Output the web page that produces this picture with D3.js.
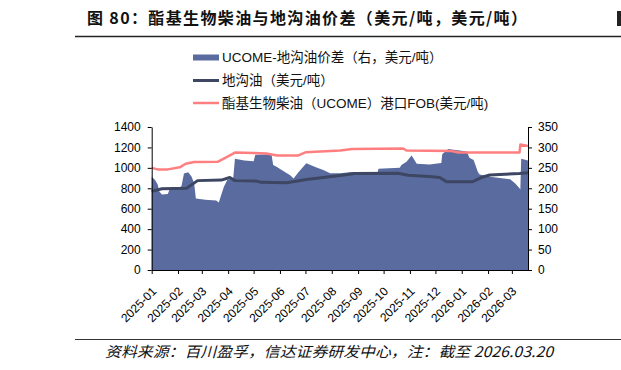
<!DOCTYPE html>
<html><head><meta charset="utf-8">
<script src="https://cdn.jsdelivr.net/npm/d3@7"></script>
<style>
html,body{margin:0;padding:0;background:#fff;}
svg{display:block;}
text{font-family:"Liberation Sans","Noto Sans CJK SC",sans-serif;}
</style></head>
<body>
<svg id="c" width="621" height="370"></svg>
<script>
// ---- data ----
const titleText = "图 80：酯基生物柴油与地沟油价差（美元/吨，美元/吨）";
const sourceText = "资料来源：百川盈孚，信达证券研发中心，注：截至 2026.03.20";
const legendLabels = ["UCOME-地沟油价差（右，美元/吨）", "地沟油（美元/吨）", "酯基生物柴油（UCOME）港口FOB(美元/吨)"];

const monthTicks = ["2025-01","2025-02","2025-03","2025-04","2025-05","2025-06","2025-07","2025-08","2025-09","2025-10","2025-11","2025-12","2026-01","2026-02","2026-03"];
const leftTicks = [0,200,400,600,800,1000,1200,1400];
const rightTicks = [0,50,100,150,200,250,300,350];

// UCOME port FOB (left axis, USD/t)
const ucomeDates = ["2025-01-01","2025-01-08","2025-01-20","2025-02-03","2025-02-10","2025-02-20","2025-03-20","2025-03-28","2025-04-09","2025-05-01","2025-05-16","2025-05-24","2025-05-29","2025-06-22","2025-07-01","2025-08-11","2025-08-25","2025-10-24","2025-10-28","2025-12-20","2025-12-28","2026-03-10","2026-03-11","2026-03-20"];
const ucomeValues = [1000,985,985,1005,1040,1058,1060,1095,1150,1145,1140,1128,1120,1120,1152,1170,1185,1190,1170,1165,1150,1150,1228,1215];

// UCO (left axis, USD/t)
const ucoDates = ["2025-01-01","2025-01-13","2025-02-11","2025-02-24","2025-03-24","2025-04-03","2025-04-09","2025-05-05","2025-05-10","2025-06-09","2025-07-02","2025-08-11","2025-08-28","2025-10-18","2025-10-30","2025-11-24","2025-12-06","2025-12-14","2026-01-14","2026-01-24","2026-02-03","2026-03-10","2026-03-20"];
const ucoValues = [770,795,800,875,880,905,875,870,858,855,885,925,945,948,928,915,905,865,865,905,930,945,952];

// spread UCOME - UCO (right axis, USD/t)
const spreadDates = ["2025-01-01","2025-01-05","2025-01-08","2025-01-10","2025-01-13","2025-01-20","2025-01-22","2025-01-31","2025-02-05","2025-02-08","2025-02-13","2025-02-17","2025-02-20","2025-02-22","2025-03-05","2025-03-18","2025-03-21","2025-03-24","2025-03-27","2025-03-31","2025-04-07","2025-04-09","2025-04-20","2025-05-01","2025-05-03","2025-05-22","2025-05-24","2025-05-28","2025-06-03","2025-06-13","2025-06-17","2025-06-23","2025-07-02","2025-07-14","2025-07-22","2025-07-30","2025-08-11","2025-08-25","2025-09-24","2025-09-25","2025-10-20","2025-10-22","2025-10-28","2025-11-03","2025-11-09","2025-11-24","2025-12-08","2025-12-09","2025-12-16","2026-01-07","2026-01-10","2026-01-15","2026-01-20","2026-01-22","2026-02-03","2026-02-27","2026-03-05","2026-03-10","2026-03-11","2026-03-12","2026-03-20"];
const spreadValues = [228,220,209,192,185,186,197,200,205,236,239,228,212,175,172,170,165,185,204,220,225,272,268,266,282,283,257,253,245,232,224,240,261,251,245,237,237,240,240,248,250,257,265,280,260,258,262,283,296,290,275,269,240,234,228,222,212,200,197,272,268];

// ---- layout ----
const parse = d3.timeParse("%Y-%m-%d");
const svg = d3.select("#c");
const L = 151.7, R = 528, T = 127, B = 270;

const x = d3.scaleTime().domain([parse("2025-01-01"), parse("2026-03-20")]).range([L, R]);
const yL = d3.scaleLinear().domain([0, 1400]).range([B, T]);
const yR = d3.scaleLinear().domain([0, 350]).range([B, T]);

// title
svg.append("text").attr("x", 87).attr("y", 24)
  .attr("textLength", 440).attr("lengthAdjust", "spacing")
  .style("font-family", '"Noto Sans CJK SC",sans-serif')
  .style("font-weight", "bold").style("font-size", "16px").attr("fill", "#111")
  .text(titleText);
svg.append("rect").attr("x", 617).attr("y", 11).attr("width", 4).attr("height", 15).attr("fill", "#222");
svg.append("line").attr("x1", 75).attr("x2", 621).attr("y1", 36.5).attr("y2", 36.5)
  .attr("stroke", "#222").attr("stroke-width", 1.5);

// legend
const leg = svg.append("g");
const legY = [57.5, 80.5, 103];
leg.append("rect").attr("x", 193).attr("y", legY[0] - 3).attr("width", 26).attr("height", 6).attr("fill", "#5a6b9f");
leg.append("line").attr("x1", 193).attr("x2", 219).attr("y1", legY[1]).attr("y2", legY[1]).attr("stroke", "#3d4662").attr("stroke-width", 3);
leg.append("line").attr("x1", 193).attr("x2", 219).attr("y1", legY[2]).attr("y2", legY[2]).attr("stroke", "#ff7f80").attr("stroke-width", 2.5);
legendLabels.forEach((t, i) => {
  leg.append("text").attr("x", 222).attr("y", legY[i]).attr("dy", "0.36em")
    .style("font-size", "13.5px").attr("fill", "#111").text(t);
});

// area (spread)
const spread = spreadDates.map((d, i) => ({date: parse(d), v: spreadValues[i]}));
const uco = ucoDates.map((d, i) => ({date: parse(d), v: ucoValues[i]}));
const ucome = ucomeDates.map((d, i) => ({date: parse(d), v: ucomeValues[i]}));

svg.append("path").datum(spread)
  .attr("d", d3.area().x(d => x(d.date)).y0(yR(0)).y1(d => yR(d.v)))
  .attr("fill", "#5a6b9f");

svg.append("path").datum(uco)
  .attr("d", d3.line().x(d => x(d.date)).y(d => yL(d.v)))
  .attr("fill", "none").attr("stroke", "#3d4662").attr("stroke-width", 3).attr("stroke-linejoin", "round");

svg.append("path").datum(ucome)
  .attr("d", d3.line().x(d => x(d.date)).y(d => yL(d.v)))
  .attr("fill", "none").attr("stroke", "#ff7f80").attr("stroke-width", 2.5).attr("stroke-linejoin", "round");

// axes
const styleAxis = g => {
  g.selectAll(".domain").attr("stroke", "#000");
  g.selectAll(".tick line").attr("stroke", "#000");
  g.selectAll("text").style("font-size", "12px").attr("fill", "#000")
    .style("font-family", '"Liberation Sans",sans-serif');
};
svg.append("g").attr("transform", `translate(${L},0)`)
  .call(d3.axisLeft(yL).tickValues(leftTicks).tickSize(4).tickSizeOuter(0).tickPadding(7).tickFormat(d3.format("d")))
  .call(styleAxis);
svg.append("g").attr("transform", `translate(${R},0)`)
  .call(d3.axisRight(yR).tickValues(rightTicks).tickSize(4).tickSizeOuter(0).tickPadding(6).tickFormat(d3.format("d")))
  .call(styleAxis);
const monthParse = d3.timeParse("%Y-%m");
const xa = svg.append("g").attr("transform", `translate(0,${B})`)
  .call(d3.axisBottom(x).tickValues(monthTicks.map(monthParse)).tickSize(4).tickSizeOuter(0).tickFormat(d3.timeFormat("%Y-%m")))
  .call(styleAxis);
xa.selectAll(".tick text")
  .attr("text-anchor", "end").attr("x", 0).attr("y", 0).attr("dy", "0.35em")
  .attr("transform", "translate(2,19) rotate(-45)");

// footer
svg.append("line").attr("x1", 75).attr("x2", 621).attr("y1", 339.5).attr("y2", 339.5)
  .attr("stroke", "#333").attr("stroke-width", 1);
svg.append("text").attr("x", 105).attr("y", 357)
  .attr("textLength", 448).attr("lengthAdjust", "spacingAndGlyphs")
  .style("font-family", '"Noto Sans CJK SC",sans-serif')
  .style("font-style", "italic").style("font-size", "14.5px").attr("fill", "#111")
  .text(sourceText);
</script>
</body></html>
